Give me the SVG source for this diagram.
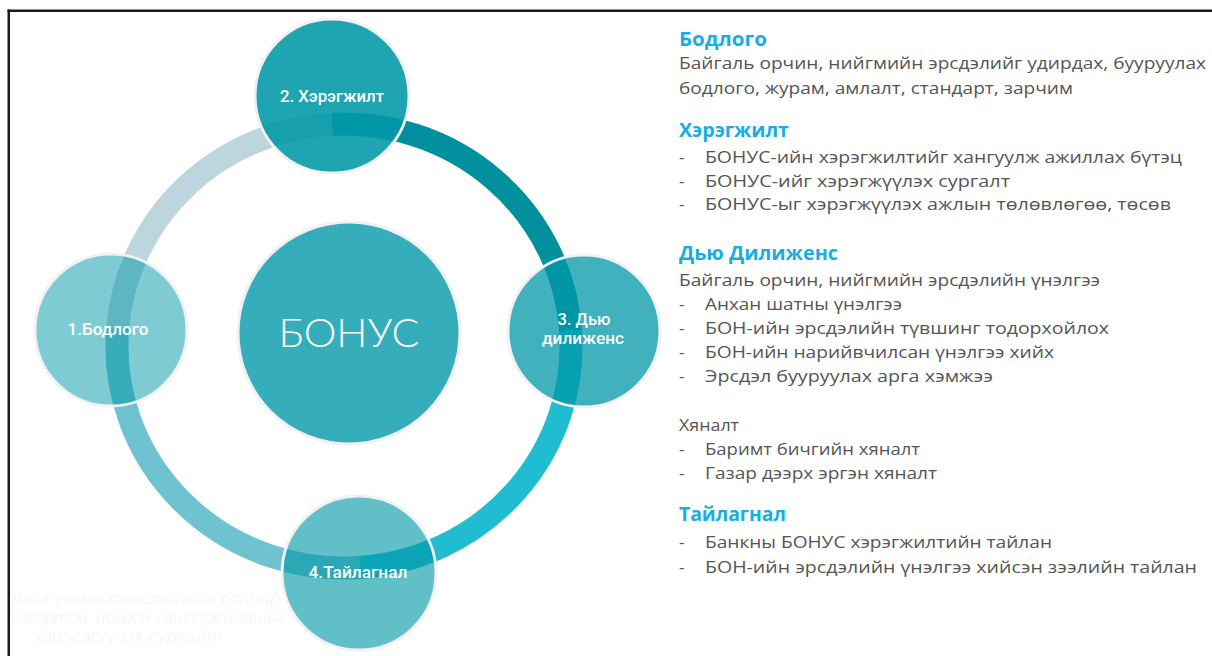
<svg xmlns="http://www.w3.org/2000/svg" width="1212" height="656" viewBox="0 0 1212 656">
<defs>
<style>
.band{fill:none;stroke-width:23}
.node{fill:#0097a7;stroke:#f1f1f1;stroke-width:3}
.lbl{font-family:Roboto,"Noto Sans",sans-serif;font-size:16px;fill:#ffffff;text-anchor:middle;font-weight:500}
.h{font-family:"Open Sans","Noto Sans",sans-serif;font-size:20px;font-weight:700;fill:#16aee6}
.b{font-family:"Open Sans","Noto Sans",sans-serif;font-size:17px;fill:#555555}
.ghost{font-family:Lato,"Open Sans",sans-serif;font-style:italic;font-weight:300;font-size:17px;fill:#f3f3f3}
</style>
</defs>
<rect width="1212" height="656" fill="#ffffff"/>
<g id="frame" stroke="#1a1a1a" stroke-width="2.5" fill="none">
<line x1="8.75" y1="9.5" x2="8.75" y2="656"/>
<line x1="7.5" y1="10.75" x2="1212" y2="10.75"/>
</g>
<g id="ghost-text">
<text class="ghost" x="12" y="604" textLength="268" lengthAdjust="spacingAndGlyphs">нгол улсын текстилийн салбар</text>
<text class="ghost" x="12" y="623" textLength="272" lengthAdjust="spacingAndGlyphs">твортой, ногоон санхүүжилтийг</text>
<text class="ghost" x="34" y="642" textLength="188" lengthAdjust="spacingAndGlyphs">хэрэгжүүлэх сургалт</text>
</g>
<g id="connectors">
<path class="band" stroke="#bdd5dc" d="M117.7,328.2 A227,222 0 0 1 332.1,124.3"/>
<path class="band" stroke="#02909f" d="M332.1,124.3 A227,222 0 0 1 570.5,330.5"/>
<path class="band" stroke="#1fbcd2" d="M570.5,330.5 A227,222 0 0 1 359.8,567.5"/>
<path class="band" stroke="#6fc2d0" d="M359.8,567.5 A227,222 0 0 1 117.7,328.2"/>
</g>
<g id="node-bonus">
<circle class="node" cx="349" cy="333" r="111" fill-opacity="0.79"/>
<text x="349" y="347" font-family="Lato,'Open Sans',sans-serif" font-weight="300" font-size="40" fill="#ffffff" text-anchor="middle" textLength="141" lengthAdjust="spacingAndGlyphs">БОНУС</text>
</g>
<g id="node-1">
<circle class="node" cx="111" cy="330" r="76" fill-opacity="0.5"/>
<text class="lbl" x="108" y="335" textLength="81" lengthAdjust="spacingAndGlyphs">1.Бодлого</text>
</g>
<g id="node-2">
<circle class="node" cx="332" cy="96" r="77" fill-opacity="0.88"/>
<text class="lbl" x="332" y="102" textLength="104" lengthAdjust="spacingAndGlyphs">2. Хэрэгжилт</text>
</g>
<g id="node-3">
<circle class="node" cx="584" cy="331" r="76" fill-opacity="0.75"/>
<text class="lbl" x="584" y="325" textLength="53" lengthAdjust="spacingAndGlyphs">3. Дью</text>
<text class="lbl" x="583" y="344" textLength="82" lengthAdjust="spacingAndGlyphs">дилиженс</text>
</g>
<g id="node-4">
<circle class="node" cx="359" cy="573" r="77" fill-opacity="0.62"/>
<text class="lbl" x="358" y="578" textLength="99" lengthAdjust="spacingAndGlyphs">4.Тайлагнал</text>
</g>
<g id="text-panel">
<text class="h" x="679" y="46" textLength="88" lengthAdjust="spacingAndGlyphs">Бодлого</text>
<text class="b" x="679" y="69" textLength="527" lengthAdjust="spacingAndGlyphs">Байгаль орчин, нийгмийн эрсдэлийг удирдах, бууруулах</text>
<text class="b" x="679" y="94" textLength="394" lengthAdjust="spacingAndGlyphs">бодлого, журам, амлалт, стандарт, зарчим</text>

<text class="h" x="679" y="137" textLength="110" lengthAdjust="spacingAndGlyphs">Хэрэгжилт</text>
<text class="b" x="679" y="163">-</text>
<text class="b" x="705" y="163" textLength="477" lengthAdjust="spacingAndGlyphs">БОНУС-ийн хэрэгжилтийг хангуулж ажиллах бүтэц</text>
<text class="b" x="679" y="187">-</text>
<text class="b" x="705" y="187" textLength="305" lengthAdjust="spacingAndGlyphs">БОНУС-ийг хэрэгжүүлэх сургалт</text>
<text class="b" x="679" y="210">-</text>
<text class="b" x="705" y="210" textLength="466" lengthAdjust="spacingAndGlyphs">БОНУС-ыг хэрэгжүүлэх ажлын төлөвлөгөө, төсөв</text>

<text class="h" x="679" y="260" textLength="159" lengthAdjust="spacingAndGlyphs">Дью Дилиженс</text>
<text class="b" x="679" y="286" textLength="421" lengthAdjust="spacingAndGlyphs">Байгаль орчин, нийгмийн эрсдэлийн үнэлгээ</text>
<text class="b" x="679" y="310">-</text>
<text class="b" x="705" y="310" textLength="197" lengthAdjust="spacingAndGlyphs">Анхан шатны үнэлгээ</text>
<text class="b" x="679" y="334">-</text>
<text class="b" x="705" y="334" textLength="404" lengthAdjust="spacingAndGlyphs">БОН-ийн эрсдэлийн түвшинг тодорхойлох</text>
<text class="b" x="679" y="358">-</text>
<text class="b" x="705" y="358" textLength="349" lengthAdjust="spacingAndGlyphs">БОН-ийн нарийвчилсан үнэлгээ хийх</text>
<text class="b" x="679" y="382">-</text>
<text class="b" x="705" y="382" textLength="288" lengthAdjust="spacingAndGlyphs">Эрсдэл бууруулах арга хэмжээ</text>

<text class="b" x="679" y="431" textLength="60" lengthAdjust="spacingAndGlyphs">Хяналт</text>
<text class="b" x="679" y="455">-</text>
<text class="b" x="705" y="455" textLength="215" lengthAdjust="spacingAndGlyphs">Баримт бичгийн хяналт</text>
<text class="b" x="679" y="479">-</text>
<text class="b" x="705" y="479" textLength="232" lengthAdjust="spacingAndGlyphs">Газар дээрх эргэн хяналт</text>

<text class="h" x="679" y="521" textLength="107" lengthAdjust="spacingAndGlyphs">Тайлагнал</text>
<text class="b" x="679" y="548">-</text>
<text class="b" x="705" y="548" textLength="347" lengthAdjust="spacingAndGlyphs">Банкны БОНУС хэрэгжилтийн тайлан</text>
<text class="b" x="679" y="573">-</text>
<text class="b" x="705" y="573" textLength="492" lengthAdjust="spacingAndGlyphs">БОН-ийн эрсдэлийн үнэлгээ хийсэн зээлийн тайлан</text>
</g>
</svg>
